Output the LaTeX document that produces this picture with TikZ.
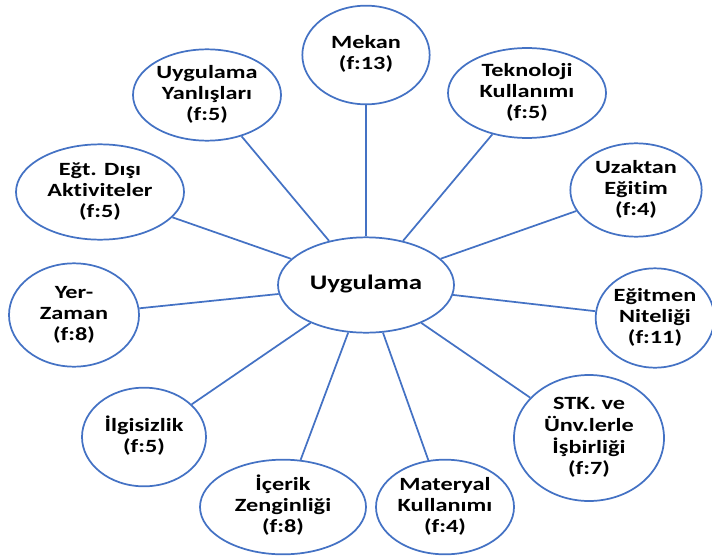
\documentclass[tikz,border=0pt]{standalone}
\usepackage{fontspec}
\setmainfont{Carlito}[Ligatures=NoCommon]
\usetikzlibrary{shapes.geometric}
\definecolor{ringblue}{RGB}{68,114,196}
\newcommand{\lbl}[1]{\scalebox{1.3}[1]{\begin{tabular}{@{}c@{}}#1\end{tabular}}}
\tikzset{
  bubble/.style={ellipse, draw=ringblue, line width=1.3pt, fill=white, inner sep=0pt, text=black,
    font=\fontsize{14}{15.9}\selectfont\bfseries},
  spoke/.style={draw=ringblue, line width=1.3pt}
}

\begin{document}
\begin{tikzpicture}[x=0.75pt,y=-0.75pt]
\useasboundingbox (0,0) rectangle (712,556);
% centre
\node[bubble, minimum width=132pt, minimum height=71.5pt, font=\fontsize{15.5}{18}\selectfont\bfseries] (uyg) at (366,285) {\lbl{Uygulama}};
% themes
\node[bubble, minimum width=95.5pt, minimum height=74pt] (mekan) at (366,55) {\lbl{Mekan\\(f:13)}};
\node[bubble, minimum width=111pt, minimum height=68.5pt] (yanlis) at (207,95) {\lbl{Uygulama\\Yanlışları\\(f:5)}};
\node[bubble, minimum width=118.5pt, minimum height=65.5pt] (tekno) at (527,93) {\lbl{Teknoloji\\Kullanımı\\(f:5)}};
\node[bubble, minimum width=126pt, minimum height=71.5pt] (disi) at (100,192) {\lbl{Eğt. Dışı\\Aktiviteler\\(f:5)}};
\node[bubble, minimum width=98.5pt, minimum height=70pt] (uzak) at (636,190) {\lbl{Uzaktan\\Eğitim\\(f:4)}};
\node[bubble, minimum width=97.5pt, minimum height=77.5pt] (yer) at (74,315) {\lbl{Yer-\\Zaman\\(f:8)}};
\node[bubble, minimum width=89pt, minimum height=74.5pt] (egitmen) at (655,318) {\lbl{Eğitmen\\Niteliği\\(f:11)}};
\node[bubble, minimum width=93pt, minimum height=74pt] (ilgi) at (144,437) {\lbl{İlgisizlik\\(f:5)}};
\node[bubble, minimum width=124.5pt, minimum height=71pt] (icerik) at (283,507) {\lbl{İçerik\\Zenginliği\\(f:8)}};
\node[bubble, minimum width=103.5pt, minimum height=71pt] (materyal) at (445,507) {\lbl{Materyal\\Kullanımı\\(f:4)}};
\node[bubble, minimum width=112.5pt, minimum height=94.5pt] (stk) at (589,438) {\lbl{STK. ve\\Ünv.lerle\\İşbirliği\\(f:7)}};
% spokes
\draw[spoke] (uyg) -- (mekan);
\draw[spoke] (uyg) -- (yanlis);
\draw[spoke] (uyg) -- (tekno);
\draw[spoke] (uyg) -- (disi);
\draw[spoke] (uyg) -- (uzak);
\draw[spoke] (uyg) -- (yer);
\draw[spoke] (uyg) -- (egitmen);
\draw[spoke] (uyg) -- (ilgi);
\draw[spoke] (uyg) -- (icerik);
\draw[spoke] (uyg) -- (materyal);
\draw[spoke] (uyg) -- (stk);
\end{tikzpicture}
\end{document}
